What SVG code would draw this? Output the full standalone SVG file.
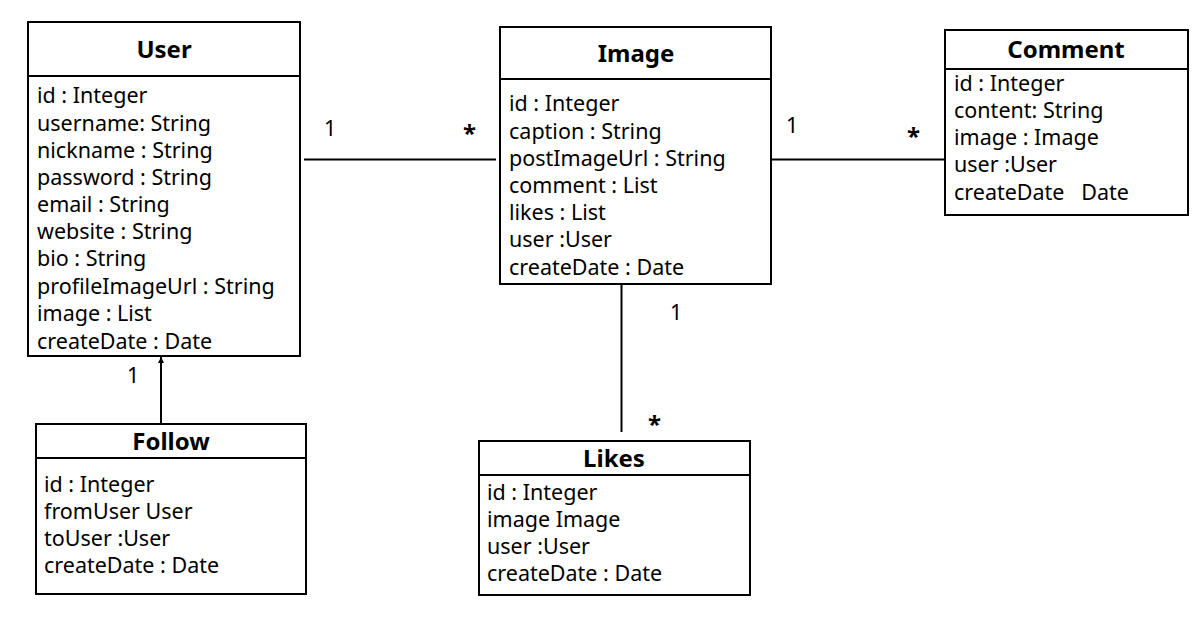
<svg xmlns="http://www.w3.org/2000/svg" width="1193" height="627" viewBox="0 0 1193 627">
<style>
.box{fill:#fff;stroke:#000;stroke-width:2}
.div{stroke:#000;stroke-width:2}
.t{font-family:"Noto Sans","Open Sans",sans-serif;font-size:21.5px;fill:#000}
.h{font-family:"Noto Sans","Open Sans",sans-serif;font-size:24px;font-weight:bold;fill:#000;text-anchor:middle}
.c{stroke:#000;stroke-width:2;fill:none}
.m{font-family:"Noto Sans","Open Sans",sans-serif;font-size:21.5px;fill:#000}
.s{font-family:"Noto Sans","Open Sans",sans-serif;font-size:24px;font-weight:bold;fill:#000}
</style>
<defs>
<marker id="arr" viewBox="0 0 10 10" refX="10" refY="5" markerWidth="6" markerHeight="7" orient="auto" markerUnits="userSpaceOnUse">
<path d="M0,0 L10,5 L0,10 Z" fill="#000"/>
</marker>
</defs>
<g id="connectors">
<line class="c" x1="304" y1="159.5" x2="496" y2="159.5"/>
<line class="c" x1="772" y1="159.5" x2="945" y2="159.5"/>
<line class="c" x1="621.5" y1="284" x2="621.5" y2="432"/>
<line class="c" x1="161" y1="424" x2="161" y2="357" marker-end="url(#arr)"/>
<text class="m" x="324" y="136">1</text>
<text class="s" x="463" y="142">*</text>
<text class="m" x="786" y="133">1</text>
<text class="s" x="907" y="145">*</text>
<text class="m" x="670" y="320">1</text>
<text class="s" x="648" y="433">*</text>
<text class="m" x="127" y="383">1</text>
</g>
<g id="User">
<rect class="box" x="28" y="22" width="272" height="334"/>
<line class="div" x1="28" y1="76" x2="300" y2="76"/>
<text class="h" x="164" y="58">User</text>
<text class="t" x="37" y="103">id : Integer</text>
<text class="t" x="37" y="131">username: String</text>
<text class="t" x="37" y="158">nickname : String</text>
<text class="t" x="37" y="185">password : String</text>
<text class="t" x="37" y="212">email : String</text>
<text class="t" x="37" y="239">website : String</text>
<text class="t" x="37" y="266">bio : String</text>
<text class="t" x="37" y="294">profileImageUrl : String</text>
<text class="t" x="37" y="321">image : List</text>
<text class="t" x="37" y="349">createDate : Date</text>
</g>
<g id="Image">
<rect class="box" x="500" y="27" width="271" height="257"/>
<line class="div" x1="500" y1="79" x2="771" y2="79"/>
<text class="h" x="636" y="62">Image</text>
<text class="t" x="509" y="111">id : Integer</text>
<text class="t" x="509" y="139">caption : String</text>
<text class="t" x="509" y="166">postImageUrl : String</text>
<text class="t" x="509" y="193">comment : List</text>
<text class="t" x="509" y="220">likes : List</text>
<text class="t" x="509" y="247">user :User</text>
<text class="t" x="509" y="275">createDate : Date</text>
</g>
<g id="Comment">
<rect class="box" x="945" y="30" width="243" height="185"/>
<line class="div" x1="945" y1="69" x2="1188" y2="69"/>
<text class="h" x="1066" y="58">Comment</text>
<text class="t" x="954" y="91">id : Integer</text>
<text class="t" x="954" y="118">content: String</text>
<text class="t" x="954" y="145">image : Image</text>
<text class="t" x="954" y="172">user :User</text>
<text class="t" x="954" y="200" xml:space="preserve">createDate   Date</text>
</g>
<g id="Follow">
<rect class="box" x="36" y="424" width="270" height="170"/>
<line class="div" x1="36" y1="458" x2="306" y2="458"/>
<text class="h" x="171" y="450">Follow</text>
<text class="t" x="44" y="492">id : Integer</text>
<text class="t" x="44" y="519">fromUser User</text>
<text class="t" x="44" y="546">toUser :User</text>
<text class="t" x="44" y="573">createDate : Date</text>
</g>
<g id="Likes">
<rect class="box" x="479" y="441" width="271" height="154"/>
<line class="div" x1="479" y1="475" x2="750" y2="475"/>
<text class="h" x="614" y="467">Likes</text>
<text class="t" x="487" y="500">id : Integer</text>
<text class="t" x="487" y="527">image Image</text>
<text class="t" x="487" y="554">user :User</text>
<text class="t" x="487" y="581">createDate : Date</text>
</g>
</svg>
